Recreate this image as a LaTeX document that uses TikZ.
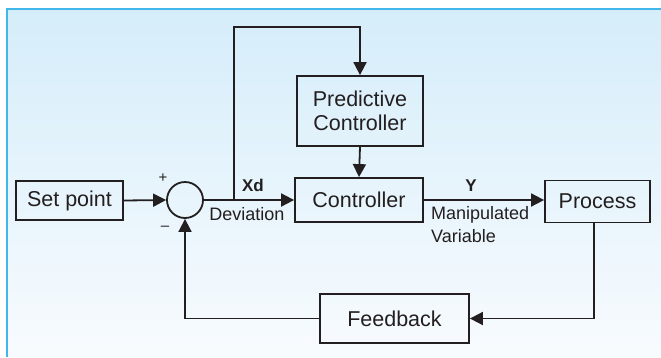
\documentclass[tikz,border=0pt]{standalone}
\usepackage{fontspec}
\setmainfont{Liberation Sans}
\usetikzlibrary{arrows.meta,calc}
\definecolor{ink}{HTML}{231F20}
\definecolor{bgtop}{HTML}{D5EDFA}
\definecolor{bgbot}{HTML}{F8FBFE}
\definecolor{rim}{HTML}{41B6E8}
\tikzset{
  blk/.style={draw=ink,line width=1.8pt,rectangle,inner sep=0pt,align=center,
    font=\fontsize{21.5}{24}\selectfont,text=ink},
  sumnode/.style={draw=ink,line width=1.8pt,circle,minimum size=36pt,inner sep=0pt},
  wire/.style={draw=ink,line width=1.8pt},
  arr/.style={wire,-{Triangle[length=13pt,width=13pt]}},
  lbl/.style={text=ink,inner sep=0pt,font=\fontsize{18}{20}\selectfont},
  blbl/.style={text=ink,inner sep=0pt,font=\fontsize{17}{19}\selectfont\bfseries},
}
\begin{document}
\begin{tikzpicture}[x=1pt,y=-1pt]
\useasboundingbox (0,0) rectangle (661,357);
\fill[white] (0,0) rectangle (661,357);
\shade[top color=bgtop,bottom color=bgbot] (7,9) rectangle (661,357);
\draw[rim,line width=1.8pt] (7,357) -- (7,9) -- (661,9);

\node[blk,minimum width=107pt,minimum height=39pt] (sp) at (69.5,200.5) {Set point};
\node[sumnode] (sum) at (185,200) {};
\node[blk,minimum width=126pt,minimum height=70pt] (pc) at (360,111) {Predictive\\Controller};
\node[blk,minimum width=128pt,minimum height=44pt] (ctrl) at (359,200) {Controller};
\node[blk,minimum width=105pt,minimum height=42pt] (proc) at (597.5,201.5) {Process};
\node[blk,minimum width=149pt,minimum height=49pt] (fb) at (394.5,318.5) {Feedback};

\coordinate (br) at (234,200);
\coordinate (top) at (234,27);
\coordinate (pdown) at (594,223);

\draw[arr] (sp.east) -- (sum.west);
\draw[arr] (sum.east) -- (ctrl.west);
\draw[arr] (br) -- (top) -| (pc.north);
\draw[arr] (pc.south) -- (ctrl.north);
\draw[arr] (ctrl.east) -- (ctrl.east -| proc.west);
\draw[arr] (pdown) |- (fb.east);
\draw[arr] (fb.west) -| (sum.south);

\node[blbl] (xd) at (253,185) {Xd};
\node[lbl] (dev) at (247,214) {Deviation};
\node[blbl] (y) at (471,186) {Y};
\node[lbl,anchor=west] (man) at (431,215) {Manipulated};
\node[lbl,anchor=west] (var) at (431,236) {Variable};
\node[text=ink,font=\fontsize{15}{17}\selectfont] (plus) at (163,178) {+};
\node[text=ink,font=\fontsize{15}{17}\selectfont] (minus) at (165,228) {\textendash};
\end{tikzpicture}
\end{document}
